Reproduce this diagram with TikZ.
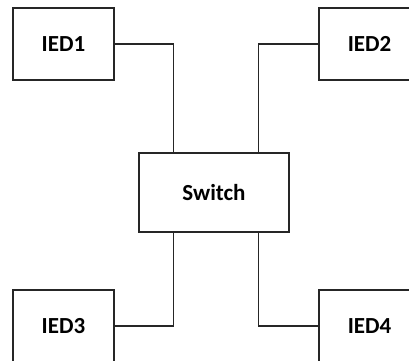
\documentclass[tikz,border=0pt]{standalone}
\usepackage{fontspec}
\setmainfont{Carlito}
\begin{document}
\begin{tikzpicture}[x=1pt, y=-1pt,
    box/.style={draw=black!85, line width=1.4pt, minimum width=101pt, minimum height=72pt,
        inner sep=0pt, font=\bfseries\fontsize{23}{23}\selectfont},
    link/.style={draw=black!85, line width=1.4pt}]
    \useasboundingbox (0,0) rectangle (409,360);

    % Dispositivi
    \node[box] (ied1) at (63.5,44) {IED1};
    \node[box] (ied2) at (369.5,44) {IED2};
    \node[box] (ied3) at (63.5,326) {IED3};
    \node[box] (ied4) at (369.5,326) {IED4};

    % Switch centrale
    \node[box, minimum width=150pt, minimum height=79pt] (switch) at (214,192.5) {Switch};

    % Collegamenti
    \draw[link] (ied1.east) -| ([xshift=35pt]switch.north west);
    \draw[link] (ied2.west) -| ([xshift=-31pt]switch.north east);
    \draw[link] (ied3.east) -| ([xshift=35pt]switch.south west);
    \draw[link] (ied4.west) -| ([xshift=-31pt]switch.south east);
\end{tikzpicture}
\end{document}
